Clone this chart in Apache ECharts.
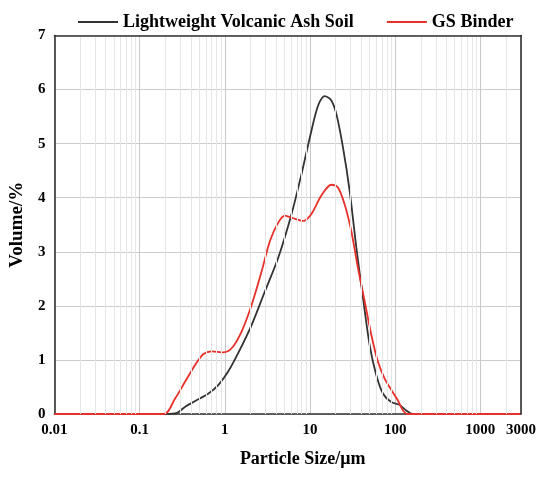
<!DOCTYPE html>
<html>
<head>
<meta charset="utf-8">
<script src="https://cdn.jsdelivr.net/npm/echarts@6/dist/echarts.min.js"></script>
<style>html,body{margin:0;padding:0;background:#fff}#c{width:550px;height:477px}</style>
</head>
<body>
<div id="c"></div>
<script>
var seriesNames = ['Lightweight Volcanic Ash Soil', 'GS Binder'];
var ashSize = [0.01, 0.2, 0.275, 0.343, 0.45, 0.644, 0.843, 1.10, 1.44, 2.07, 2.96, 4.24, 6.08, 7.96, 10.4, 12.5, 14.9, 17.8, 20.4, 24.4, 29.2, 35.0, 41.9, 50.1, 60, 71.8, 89.8, 112, 134, 161, 3000];
var ashVolume = [0, 0, 0.02, 0.135, 0.24, 0.38, 0.54, 0.79, 1.13, 1.65, 2.27, 2.89, 3.70, 4.44, 5.24, 5.71, 5.88, 5.80, 5.55, 4.93, 4.13, 3.08, 2.15, 1.28, 0.72, 0.38, 0.22, 0.17, 0.07, 0, 0];
var gsSize = [0.01, 0.192, 0.262, 0.343, 0.45, 0.562, 0.705, 0.966, 1.21, 1.58, 2.07, 2.71, 3.39, 4.24, 5.07, 6.35, 8.32, 10.4, 13.6, 17.8, 21.3, 25.5, 30.5, 36.6, 43.8, 52.4, 62.7, 75, 89.8, 107, 123, 140, 3000];
var gsVolume = [0, 0, 0.29, 0.60, 0.91, 1.11, 1.16, 1.14, 1.22, 1.53, 2.02, 2.64, 3.20, 3.54, 3.67, 3.62, 3.57, 3.70, 4.04, 4.24, 4.19, 3.88, 3.39, 2.70, 2.09, 1.47, 0.97, 0.66, 0.45, 0.26, 0.07, 0, 0];
var xTickLabels = ['0.01', '0.1', '1', '10', '100', '1000', '3000'];
var minorGridValues = [0.02,0.03,0.04,0.05,0.06,0.07,0.08,0.09,
  0.2,0.3,0.4,0.5,0.6,0.7,0.8,0.9,
  2,3,4,5,6,7,8,9,
  20,30,40,50,60,70,80,90,
  200,300,400,500,600,700,800,900,
  2000];

function pairs(xs, ys) { return xs.map(function (x, i) { return [x, ys[i]]; }); }

var font = 'Liberation Serif, Times New Roman, serif';
var frameLine = {show: true, onZero: false, lineStyle: {color: '#333', width: 1.6}};
var chart = echarts.init(document.getElementById('c'), null, {renderer: 'canvas'});
chart.setOption({
  animation: false,
  backgroundColor: '#fff',
  legend: {
    data: seriesNames,
    left: 73, top: 8,
    icon: 'rect', itemWidth: 40, itemHeight: 2, itemGap: 33,
    textStyle: {fontFamily: font, fontWeight: 'bold', fontSize: 18, color: '#000'}
  },
  grid: {left: 52, right: 29, top: 35.5, bottom: 63},
  xAxis: [{
    type: 'log', logBase: 10, min: 0.01, max: 3000, position: 'bottom',
    name: 'Particle Size/\u03bcm', nameLocation: 'middle', nameGap: 36,
    nameTextStyle: {fontFamily: font, fontWeight: 'bold', fontSize: 18, color: '#000', padding: [0, 0, 0, 30]},
    axisLine: frameLine, axisTick: {show: false},
    axisLabel: {
      fontFamily: font, fontWeight: 'bold', fontSize: 15, color: '#000', margin: 9,
      showMinLabel: true, showMaxLabel: true, hideOverlap: false,
      formatter: function (v) {
        var s = String(+Number(v).toPrecision(4));
        return xTickLabels.indexOf(s) >= 0 ? s : '';
      }
    },
    splitLine: {show: true, lineStyle: {color: '#c8c8c8', width: 1}}
  }, {
    type: 'log', logBase: 10, min: 0.01, max: 3000, position: 'top', z: 10,
    axisLine: frameLine, axisTick: {show: false}, axisLabel: {show: false}, splitLine: {show: false}
  }],
  yAxis: [{
    type: 'value', min: 0, max: 7, interval: 1, position: 'left',
    name: 'Volume/%', nameLocation: 'middle', nameGap: 19,
    nameTextStyle: {fontFamily: font, fontWeight: 'bold', fontSize: 19, color: '#000'},
    axisLine: frameLine, axisTick: {show: false},
    axisLabel: {fontFamily: font, fontWeight: 'bold', fontSize: 15, color: '#000', margin: 9},
    splitLine: {show: true, lineStyle: {color: '#cccccc', width: 1}}
  }, {
    type: 'value', min: 0, max: 7, interval: 1, position: 'right', z: 10,
    axisLine: frameLine, axisTick: {show: false}, axisLabel: {show: false}, splitLine: {show: false}
  }],
  series: [
    {
      type: 'line', data: [], silent: true, z: 1,
      markLine: {
        silent: true, symbol: ['none', 'none'], label: {show: false},
        lineStyle: {color: '#e6e6e6', type: 'solid', width: 1},
        data: minorGridValues.map(function (v) { return {xAxis: v}; })
      }
    },
    {
      name: seriesNames[0], type: 'line', data: pairs(ashSize, ashVolume),
      showSymbol: false, symbol: 'none', smooth: 0.3, z: 3,
      lineStyle: {color: '#333333', width: 1.8}, itemStyle: {color: '#333333'}
    },
    {
      name: seriesNames[1], type: 'line', data: pairs(gsSize, gsVolume),
      showSymbol: false, symbol: 'none', smooth: 0.3, z: 4,
      lineStyle: {color: '#e8302a', width: 1.8}, itemStyle: {color: '#e8302a'}
    }
  ]
});
</script>
</body>
</html>
